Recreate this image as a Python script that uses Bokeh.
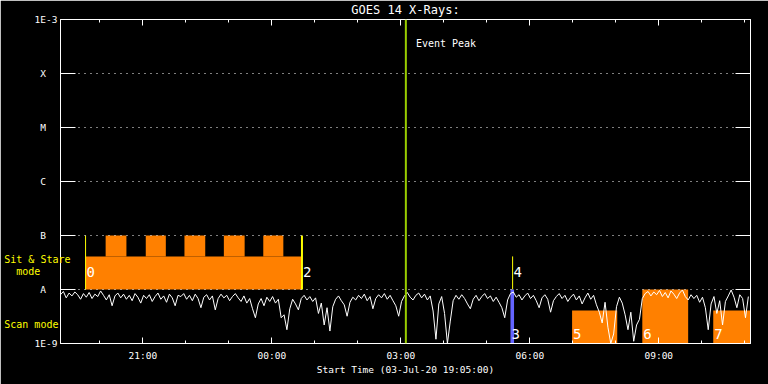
import pandas as pd
from bokeh.plotting import figure
from bokeh.models import (Range1d, FixedTicker, DatetimeTickFormatter, DatetimeAxis,
                          LogAxis, Label, Span, BoxAnnotation, ColumnDataSource)
from bokeh.embed import file_html
from bokeh.resources import INLINE

# ---------------- data ----------------
START = "2020-07-03 19:05"
END = "2020-07-04 11:08"
STEP_MIN = 4  # one reading every 4 minutes from START

# GOES 14 X-ray flux (units of 1e-9 W/m^2)
flux_1e9 = [
    8.0, 9.2, 7.0, 8.6, 7.6, 9.0, 8.0, 6.6, 8.4, 7.2, 8.8, 6.8, 8.2, 7.4, 9.4, 7.8, 6.4, 8.0, 5.0, 7.6,
    8.6, 7.0, 8.2, 6.6, 7.8, 6.2, 8.4, 7.2, 5.6, 7.8, 6.8, 8.0, 6.0, 7.4, 8.6, 6.6, 7.6, 5.8, 8.2, 7.0,
    5.0, 7.8, 7.4, 8.4, 6.6, 7.8, 6.2, 8.2, 6.8, 4.6, 7.2, 8.0, 6.4, 7.6, 4.2, 6.8, 8.2, 7.0, 7.8, 6.2,
    7.4, 8.4, 7.0, 6.0, 7.6, 5.6, 6.8, 4.4, 3.0, 5.4, 6.8, 5.0, 7.2, 6.0, 7.4, 5.6, 6.6, 3.0, 3.4, 1.8,
    4.4, 6.6, 5.4, 4.2, 6.8, 7.8, 6.4, 7.4, 6.0, 7.0, 3.6, 5.6, 2.2, 4.6, 1.7, 4.8, 6.6, 7.6, 6.2, 5.2,
    3.2, 5.8, 7.2, 6.4, 7.8, 6.8, 8.2, 6.2, 7.4, 4.4, 6.8, 8.0, 7.0, 8.4, 6.6, 7.8, 6.2, 5.0, 3.2, 6.0,
    7.6, 8.8, 7.2, 6.4, 7.8, 8.6, 7.0, 8.2, 6.4, 7.6, 4.0, 1.2, 5.4, 7.4, 3.6, 1.0, 2.6, 6.2, 7.8, 6.6,
    8.0, 6.8, 5.4, 4.4, 6.6, 7.8, 6.2, 7.4, 8.4, 6.8, 7.6, 6.0, 7.2, 5.8, 4.6, 3.0, 6.4, 8.4, 9.0, 7.2,
    8.0, 6.4, 7.6, 8.6, 6.8, 7.8, 6.2, 4.6, 7.0, 8.0, 6.6, 3.8, 6.2, 7.4, 8.4, 6.8, 7.8, 6.0, 7.2, 8.2,
    6.4, 7.6, 5.4, 7.0, 8.6, 6.6, 7.8, 5.2, 3.8, 2.4, 5.8, 2.0, 1.0, 1.5, 4.8, 7.2, 5.6, 3.4, 1.8, 3.8,
    1.1, 2.2, 2.8, 6.8, 8.4, 9.2, 7.6, 9.0, 8.0, 9.6, 7.4, 8.8, 7.0, 9.4, 8.2, 6.8, 8.6, 9.8, 7.4, 6.4,
    8.0, 6.8, 7.8, 5.8, 7.2, 4.6, 1.8, 5.4, 7.4, 3.6, 6.2, 2.2, 6.0, 7.6, 9.8, 7.2, 4.6, 8.0, 6.8, 3.0,
    7.4,
]

y_levels = [1e-3, 1e-4, 1e-5, 1e-6, 1e-7, 1e-8, 1e-9]
y_names = ["1E-3", "X", "M", "C", "B", "A", "1E-9"]

# yellow mode captions on the left margin, at these flux levels
mode_levels = [3.6e-8, 2.15e-8, 2.25e-9]
mode_names = ["Sit & Stare", "mode", "Scan mode"]

major_times = ["2020-07-03 21:00", "2020-07-04 00:00", "2020-07-04 03:00",
               "2020-07-04 06:00", "2020-07-04 09:00"]
minor_times = ["2020-07-03 20:00", "2020-07-03 21:00", "2020-07-03 22:00", "2020-07-03 23:00",
               "2020-07-04 00:00", "2020-07-04 01:00", "2020-07-04 02:00", "2020-07-04 03:00",
               "2020-07-04 04:00", "2020-07-04 05:00", "2020-07-04 06:00", "2020-07-04 07:00",
               "2020-07-04 08:00", "2020-07-04 09:00", "2020-07-04 10:00", "2020-07-04 11:00"]

# Sit & Stare mode block
stare_start = "2020-07-03 19:40"
stare_end = "2020-07-04 00:42"
stare_base = [1e-8, 4.1e-8]
stare_cren_starts = ["2020-07-03 20:08", "2020-07-03 21:04", "2020-07-03 21:58",
                     "2020-07-03 22:53", "2020-07-03 23:48"]
stare_cren_ends = ["2020-07-03 20:37", "2020-07-03 21:32", "2020-07-03 22:27",
                   "2020-07-03 23:22", "2020-07-04 00:16"]
stare_cren_top = 1e-7

# Scan mode blocks (5, 6, 7)
scan_starts = ["2020-07-04 06:59", "2020-07-04 08:37", "2020-07-04 10:16"]
scan_ends = ["2020-07-04 08:02", "2020-07-04 09:41", "2020-07-04 11:18"]
scan_tops = [4.1e-9, 1e-8, 4.1e-9]
scan_names = ["5", "6", "7"]

# markers 3 and 4
blue_start, blue_end = "2020-07-04 05:33", "2020-07-04 05:38"
marker4_time = "2020-07-04 05:36"
peak_time = "2020-07-04 03:07"


def ms(s):
    return pd.Timestamp(s).value / 1e6


MIN = 60000.0
t0 = ms(START)
times = [t0 + i * STEP_MIN * MIN for i in range(len(flux_1e9))]
flux = [v * 1e-9 for v in flux_1e9]

FONT = "DejaVu Sans Mono"
WHITE = "white"
YELLOW = "#ffff00"
ORANGE = "#ff8000"
NB = "\u00a0"

p = figure(width=768, height=384, x_axis_type="datetime", y_axis_type="log",
           x_range=Range1d(ms(START), ms(END)), y_range=Range1d(1e-9, 1e-3),
           output_backend="svg", toolbar_location=None,
           min_border_left=60, min_border_right=18, min_border_top=19, min_border_bottom=41)
p.background_fill_color = "black"
p.border_fill_color = "black"
p.outline_line_color = WHITE
p.xgrid.visible = False
p.ygrid.grid_line_color = WHITE
p.ygrid.grid_line_dash = "1 5"
p.ygrid.level = "annotation"

p.title.text = "GOES 14 X-Rays:"
p.title.align = "center"
p.title.vertical_align = "top"
p.title.text_color = WHITE
p.title.text_font = FONT
p.title.text_font_size = "12px"
p.title.text_font_style = "normal"
p.title.standoff = 2

xticker = FixedTicker(ticks=[ms(t) for t in major_times], minor_ticks=[ms(t) for t in minor_times])
fmt = DatetimeTickFormatter(hours="%H:%M", hourmin="%H:%M", minutes="%H:%M", minsec="%H:%M",
                            days="%H:%M", strip_leading_zeros=False)
yticker = FixedTicker(ticks=y_levels, minor_ticks=[])
p.ygrid.ticker = yticker


def style_axis(ax, major_in, minor_in, show_labels=True):
    ax.axis_line_color = WHITE
    ax.major_tick_line_color = WHITE
    ax.minor_tick_line_color = WHITE
    ax.major_tick_in = major_in
    ax.major_tick_out = 0
    ax.minor_tick_in = minor_in
    ax.minor_tick_out = 0
    ax.major_label_text_font = FONT
    if show_labels:
        ax.major_label_text_color = WHITE
        ax.major_label_text_font_size = "9.5px"
    else:
        ax.major_label_text_color = None
        ax.major_label_text_font_size = "1px"
        ax.major_label_standoff = 0


xb = p.xaxis[0]
xb.ticker = xticker
xb.formatter = fmt
style_axis(xb, 6, 3)
xb.major_label_standoff = 6
xb.axis_label = "Start Time (03-Jul-20 19:05:00)"
xb.axis_label_text_color = WHITE
xb.axis_label_text_font = FONT
xb.axis_label_text_font_size = "9.5px"
xb.axis_label_text_font_style = "normal"
xb.axis_label_standoff = 0

xt = DatetimeAxis(ticker=xticker, formatter=fmt)
style_axis(xt, 6, 3, show_labels=False)
p.add_layout(xt, "above")

# left axis: GOES class names
yl = p.yaxis[0]
yl.ticker = yticker
style_axis(yl, 15, 0)
yl.major_label_standoff = 3
yl.major_label_overrides = {lvl: (name if len(name) > 1 else name + NB * 2)
                            for lvl, name in zip(y_levels, y_names)}

# outer left axis carrying the yellow mode captions
ym = LogAxis(ticker=FixedTicker(ticks=mode_levels, minor_ticks=[]))
ym.axis_line_color = None
ym.major_tick_line_color = None
ym.minor_tick_line_color = None
ym.major_tick_in = 0
ym.major_tick_out = 0
ym.major_label_text_color = YELLOW
ym.major_label_text_font = FONT
ym.major_label_text_font_size = "10px"
ym.major_label_standoff = -39
ym.major_label_overrides = {mode_levels[0]: mode_names[0],
                            mode_levels[1]: mode_names[1] + NB * 5,
                            mode_levels[2]: mode_names[2] + NB * 2}
p.add_layout(ym, "left")

yr = LogAxis(ticker=yticker)
style_axis(yr, 15, 0, show_labels=False)
p.add_layout(yr, "right")

# orange mode blocks (drawn under the curve)
p.add_layout(BoxAnnotation(left=ms(stare_start), right=ms(stare_end),
                           bottom=stare_base[0], top=stare_base[1],
                           fill_color=ORANGE, fill_alpha=1, line_color=None, level="underlay"))
for s, e in zip(stare_cren_starts, stare_cren_ends):
    p.add_layout(BoxAnnotation(left=ms(s), right=ms(e), bottom=stare_base[1], top=stare_cren_top,
                               fill_color=ORANGE, fill_alpha=1, line_color=None, level="underlay"))
for s, e, top in zip(scan_starts, scan_ends, scan_tops):
    p.add_layout(BoxAnnotation(left=ms(s), right=ms(e), bottom=1e-9, top=top,
                               fill_color=ORANGE, fill_alpha=1, line_color=None, level="underlay"))

# yellow / blue markers
p.segment(x0=[ms(stare_start)], y0=[1e-8], x1=[ms(stare_start)], y1=[stare_cren_top],
          line_color=YELLOW, line_width=1)
p.segment(x0=[ms(stare_end)], y0=[1e-8], x1=[ms(stare_end)], y1=[stare_cren_top],
          line_color=YELLOW, line_width=2)
p.segment(x0=[ms(marker4_time)], y0=[1e-8], x1=[ms(marker4_time)], y1=[stare_base[1]],
          line_color=YELLOW, line_width=1)
p.quad(left=[ms(blue_start)], right=[ms(blue_end)], bottom=[1e-9], top=[1e-8],
       fill_color="#6464ff", line_color=None)

# GOES curve
src = ColumnDataSource(dict(t=times, f=flux))
p.line("t", "f", source=src, line_color=WHITE, line_width=1)

# event peak
p.add_layout(Span(location=ms(peak_time), dimension="height", line_color="#99cc00", line_width=2))
p.add_layout(Label(x=ms(peak_time) + 14 * MIN, y=3.67e-4, text="Event Peak", text_color=WHITE,
                   text_font=FONT, text_font_size="10px", text_baseline="middle"))

# block numbers
num_labels = [("0", stare_start, 2.07e-8), ("2", stare_end, 2.07e-8), ("4", marker4_time, 2.09e-8),
              ("3", blue_start, 1.53e-9)]
num_labels += [(n, s, 1.53e-9) for n, s in zip(scan_names, scan_starts)]
for txt, t, yv in num_labels:
    p.add_layout(Label(x=ms(t), y=yv, x_offset=1, text=txt, text_color=WHITE, text_font=FONT,
                       text_font_size="14px", text_baseline="middle"))

open("out.html", "w").write(file_html(p, INLINE))
